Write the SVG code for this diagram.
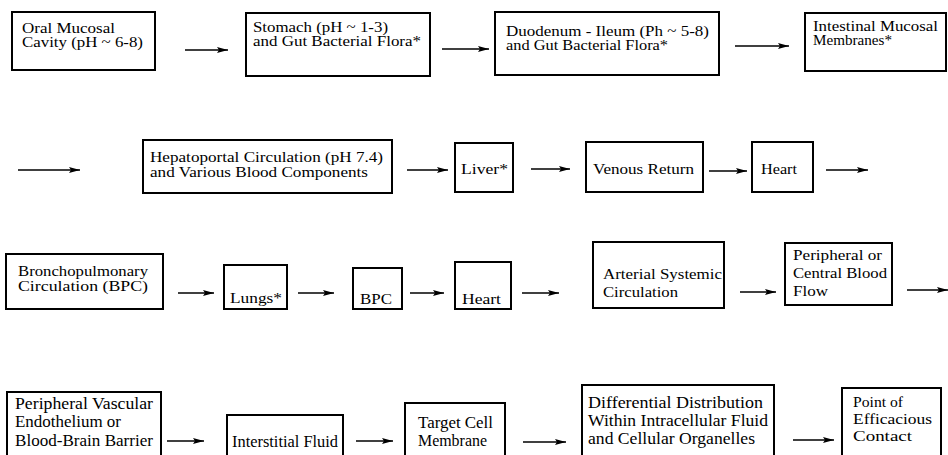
<svg xmlns="http://www.w3.org/2000/svg" width="948" height="455" viewBox="0 0 948 455">
<defs>
<style>
.b{fill:#fff;stroke:#000;stroke-width:2}
text{font-family:'Liberation Serif',serif;fill:#000}
.r1{font-size:14px}
.r3{font-size:15px}
.r4{font-size:16.5px}
.r5{font-size:14.5px}
.c line{stroke:#000;stroke-width:1.6;marker-end:url(#ah)}
</style>
<marker id="ah" markerUnits="userSpaceOnUse" markerWidth="12" markerHeight="8" refX="11" refY="4" orient="auto">
<path d="M0,1 L11,4 L0,7 L2,4 Z" fill="#000"/>
</marker>
</defs>
<rect width="948" height="455" fill="#fff"/>
<g id="connectors" class="c">
<line x1="185" y1="50" x2="228" y2="50"/>
<line x1="442" y1="49" x2="489" y2="49"/>
<line x1="735" y1="46" x2="789" y2="46"/>
<line x1="18" y1="170" x2="80" y2="170"/>
<line x1="407" y1="170" x2="448" y2="170"/>
<line x1="531" y1="169" x2="570" y2="169"/>
<line x1="709" y1="171" x2="747" y2="171"/>
<line x1="826" y1="170" x2="868" y2="170"/>
<line x1="178" y1="293" x2="214" y2="293"/>
<line x1="298" y1="293" x2="334" y2="293"/>
<line x1="410" y1="293" x2="444" y2="293"/>
<line x1="522" y1="293" x2="559" y2="293"/>
<line x1="740" y1="292" x2="776" y2="292"/>
<line x1="907" y1="290" x2="948" y2="290"/>
<line x1="167" y1="441" x2="204" y2="441"/>
<line x1="356" y1="441" x2="393" y2="441"/>
<line x1="523" y1="442" x2="566" y2="442"/>
<line x1="793" y1="440" x2="834" y2="440"/>
</g>
<g id="n1" class="r1"><rect class="b" x="12" y="12" width="143" height="58"/><text x="22" y="33" textLength="93" lengthAdjust="spacingAndGlyphs">Oral Mucosal</text><text x="22" y="47" textLength="121" lengthAdjust="spacingAndGlyphs">Cavity (pH ~ 6-8)</text></g>
<g id="n2" class="r1"><rect class="b" x="246" y="13" width="184" height="63"/><text x="253" y="32" textLength="135" lengthAdjust="spacingAndGlyphs">Stomach (pH ~ 1-3)</text><text x="253" y="46" textLength="168" lengthAdjust="spacingAndGlyphs">and Gut Bacterial Flora*</text></g>
<g id="n3" class="r1"><rect class="b" x="495" y="12" width="224" height="63"/><text x="506" y="36" textLength="203" lengthAdjust="spacingAndGlyphs">Duodenum - Ileum (Ph ~ 5-8)</text><text x="506" y="50" textLength="162" lengthAdjust="spacingAndGlyphs">and Gut Bacterial Flora*</text></g>
<g id="n4" class="r1"><rect class="b" x="805" y="13" width="141" height="58"/><text x="813" y="31" textLength="125" lengthAdjust="spacingAndGlyphs">Intestinal Mucosal</text><text x="813" y="45" textLength="79" lengthAdjust="spacingAndGlyphs">Membranes*</text></g>
<g id="n5" class="r1"><rect class="b" x="143" y="140" width="249" height="53"/><text x="150" y="162" textLength="233" lengthAdjust="spacingAndGlyphs">Hepatoportal Circulation (pH 7.4)</text><text x="150" y="177" textLength="218" lengthAdjust="spacingAndGlyphs">and Various Blood Components</text></g>
<g id="n6" class="r1"><rect class="b" x="455" y="143" width="58" height="49"/><text x="461" y="174" textLength="47" lengthAdjust="spacingAndGlyphs">Liver*</text></g>
<g id="n7" class="r1"><rect class="b" x="586" y="142" width="117" height="50"/><text x="593" y="174" textLength="101" lengthAdjust="spacingAndGlyphs">Venous Return</text></g>
<g id="n8" class="r1"><rect class="b" x="752" y="142" width="61" height="50"/><text x="761" y="174" textLength="36" lengthAdjust="spacingAndGlyphs">Heart</text></g>
<g id="n9" class="r3"><rect class="b" x="6" y="254" width="157" height="55"/><text x="18" y="276" textLength="130" lengthAdjust="spacingAndGlyphs">Bronchopulmonary</text><text x="18" y="291" textLength="130" lengthAdjust="spacingAndGlyphs">Circulation (BPC)</text></g>
<g id="n10" class="r3"><rect class="b" x="224" y="265" width="63" height="44"/><text x="230" y="303" textLength="52" lengthAdjust="spacingAndGlyphs">Lungs*</text></g>
<g id="n11" class="r3"><rect class="b" x="353" y="268" width="49" height="41"/><text x="360" y="304" textLength="32" lengthAdjust="spacingAndGlyphs">BPC</text></g>
<g id="n12" class="r3"><rect class="b" x="455" y="262" width="56" height="47"/><text x="462" y="304" textLength="39" lengthAdjust="spacingAndGlyphs">Heart</text></g>
<g id="n13" class="r3"><rect class="b" x="593" y="242" width="131" height="66"/><text x="603" y="279" textLength="119" lengthAdjust="spacingAndGlyphs">Arterial Systemic</text><text x="603" y="297" textLength="75" lengthAdjust="spacingAndGlyphs">Circulation</text></g>
<g id="n14" class="r3"><rect class="b" x="785" y="243" width="107" height="62"/><text x="793" y="260" textLength="89" lengthAdjust="spacingAndGlyphs">Peripheral or</text><text x="793" y="278" textLength="94" lengthAdjust="spacingAndGlyphs">Central Blood</text><text x="793" y="296" textLength="35" lengthAdjust="spacingAndGlyphs">Flow</text></g>
<g id="n15" class="r4"><rect class="b" x="7" y="392" width="154" height="80"/><text x="15" y="409" textLength="138" lengthAdjust="spacingAndGlyphs">Peripheral Vascular</text><text x="15" y="427" textLength="106" lengthAdjust="spacingAndGlyphs">Endothelium or</text><text x="15" y="446" textLength="138" lengthAdjust="spacingAndGlyphs">Blood-Brain Barrier</text></g>
<g id="n16" class="r4"><rect class="b" x="227" y="415" width="116" height="60"/><text x="232" y="447" textLength="106" lengthAdjust="spacingAndGlyphs">Interstitial Fluid</text></g>
<g id="n17" class="r4"><rect class="b" x="405" y="403" width="100" height="70"/><text x="418" y="428" textLength="75" lengthAdjust="spacingAndGlyphs">Target Cell</text><text x="418" y="446" textLength="69" lengthAdjust="spacingAndGlyphs">Membrane</text></g>
<g id="n18" class="r4"><rect class="b" x="582" y="385" width="192" height="90"/><text x="588" y="408" textLength="175" lengthAdjust="spacingAndGlyphs">Differential Distribution</text><text x="588" y="426" textLength="180" lengthAdjust="spacingAndGlyphs">Within Intracellular Fluid</text><text x="588" y="444" textLength="167" lengthAdjust="spacingAndGlyphs">and Cellular Organelles</text></g>
<g id="n19" class="r5"><rect class="b" x="842" y="388" width="99" height="85"/><text x="853" y="407" textLength="50" lengthAdjust="spacingAndGlyphs">Point of</text><text x="853" y="424" textLength="79" lengthAdjust="spacingAndGlyphs">Efficacious</text><text x="853" y="441" textLength="59" lengthAdjust="spacingAndGlyphs">Contact</text></g>
</svg>
